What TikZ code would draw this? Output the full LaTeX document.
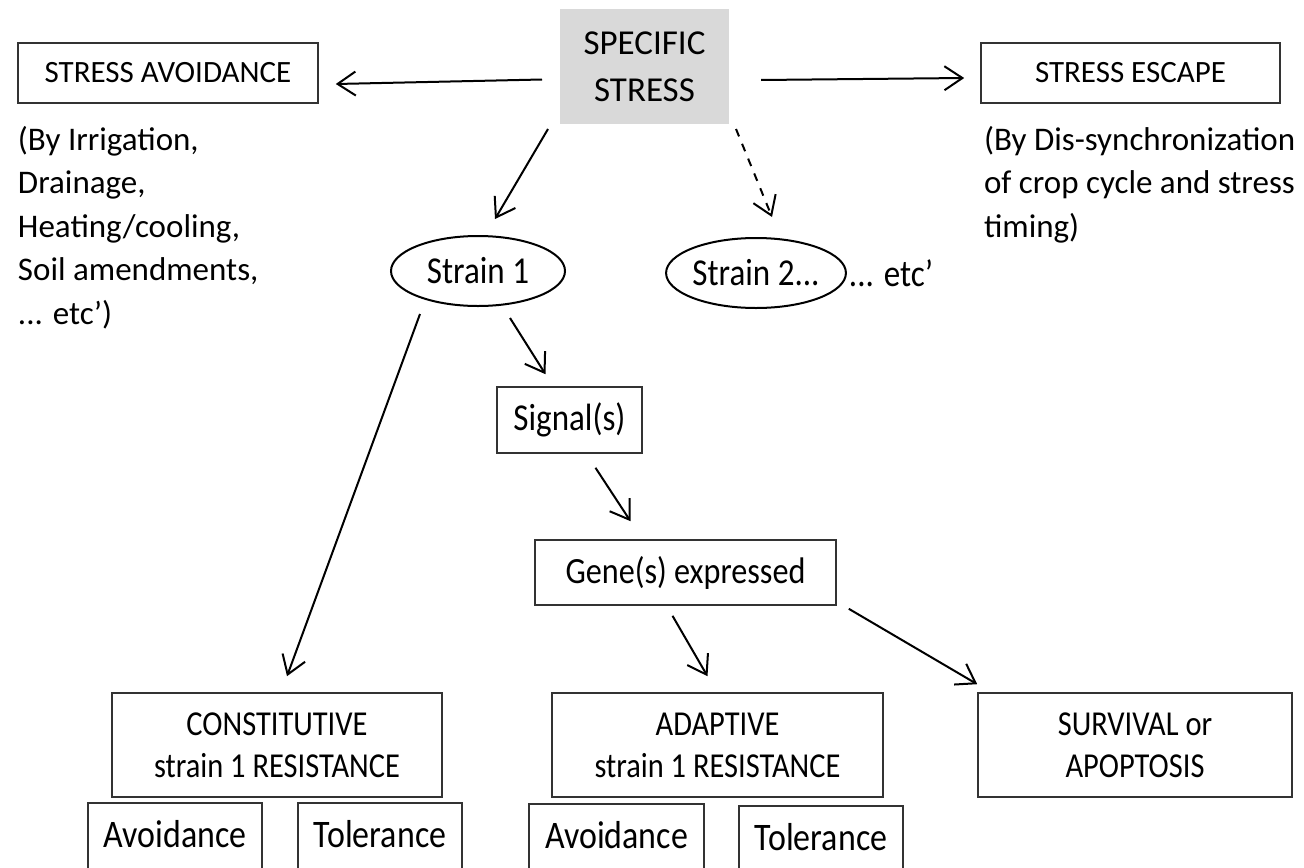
\documentclass[tikz,border=0pt]{standalone}
\usepackage{fontspec}
\setmainfont{Carlito}
\newfontfamily\tallfont{Carlito}[FakeStretch=0.87,Ligatures=TeX]
\usetikzlibrary{positioning,shapes.geometric,arrows.meta,calc}

\begin{document}
\begin{tikzpicture}[x=0.5pt,y=-0.5pt,line width=1pt,>={Straight Barb[length=9pt,width=12pt]},
    box/.style={draw=black!80,line width=0.8pt,align=center,inner sep=0pt,font=\tallfont\fontsize{17.5pt}{21pt}\selectfont},
    strain/.style={draw,ellipse,minimum width=87pt,minimum height=35pt,inner sep=0pt,font=\tallfont\fontsize{19pt}{22pt}\selectfont},
    note/.style={align=left,anchor=north west,inner sep=0pt,font=\fontsize{16.5pt}{21.75pt}\selectfont},
    kind/.style={draw=black!80,line width=0.8pt,anchor=north,inner sep=0pt,text height=22.5pt,text depth=40pt,font=\tallfont\fontsize{19.5pt}{22pt}\selectfont}]
        \useasboundingbox (0,0) rectangle (1304,867);
        \clip (0,0) rectangle (1304,867);
        \node[fill=black!15,align=center,minimum width=84.5pt,minimum height=57.5pt,inner sep=0pt,font=\fontsize{17.5pt}{23.5pt}\selectfont] (spec) at (644.5,66.5) {SPECIFIC\\STRESS};
        \node[box,minimum width=150pt,minimum height=30pt,font=\fontsize{15.5pt}{20pt}\selectfont] (avoid) at (168,73) {STRESS AVOIDANCE};
        \node[box,minimum width=149.5pt,minimum height=30pt,font=\fontsize{15.5pt}{20pt}\selectfont] (escape) at (1130.5,73) {STRESS ESCAPE};
        \node[note] (avoidnote) at (17,125) {(By Irrigation,\\Drainage,\\Heating/cooling,\\Soil amendments,\\... etc')};
        \node[note] (escapenote) at (983,125) {(By Dis-synchronization\\of crop cycle and stress\\timing)};
        \node[strain] (s1) at (478,271) {Strain 1};
        \node[strain] (s2) at (756,273) {Strain 2...};
        \node[right=0.5pt of s2,inner sep=0pt,font=\tallfont\fontsize{19pt}{22pt}\selectfont] (etc) {... etc'};
        \node[box,minimum width=72.5pt,minimum height=33pt,font=\tallfont\fontsize{19pt}{22pt}\selectfont] (signal) at (569.5,420) {Signal(s)};
        \node[box,minimum width=150.5pt,minimum height=32.5pt,font=\tallfont\fontsize{18.5pt}{22pt}\selectfont] (gene) at (685.5,572.5) {Gene(s) expressed};
        \node[box,minimum width=165pt,minimum height=52pt] (const) at (277,745) {CONSTITUTIVE\\strain 1 RESISTANCE};
        \node[box,minimum width=165.5pt,minimum height=52pt] (adapt) at (717.5,745) {ADAPTIVE\\strain 1 RESISTANCE};
        \node[box,minimum width=157pt,minimum height=52pt] (surv) at (1135,745) {SURVIVAL or\\APOPTOSIS};
        \node[kind,minimum width=87pt] (cav) at (175,802) {Avoidance};
        \node[kind,minimum width=82pt] (ctol) at (380,802) {Tolerance};
        \node[kind,minimum width=87.5pt] (aav) at (616.5,803) {Avoidance};
        \node[kind,minimum width=82pt] (atol) at (821,805) {Tolerance};
        \draw[->] ($(spec.west)+(-17,13)$) -- ($(avoid.east)+(17,11)$);
        \draw[->] ($(spec.east)+(31,13.5)$) -- ($(escape.west)+(-16,5)$);
        \draw[->] ($(spec.south west)+(-11,4)$) -- ($(s1.north)+(17,-16)$);
        \draw[->,dash pattern=on 4pt off 4pt] ($(spec.south east)+(6,4)$) -- ($(s2.north)+(16,-20)$);
        \draw[->] ($(s1.south)+(-58,7)$) -- ($(const.north)+(10,-16)$);
        \draw[->] ($(s1.south)+(32,11)$) -- ($(signal.north)+(-24,-12)$);
        \draw[->] ($(signal.south)+(26,14)$) -- ($(gene.north)+(-55,-18)$);
        \draw[->] ($(gene.south)+(-13,10)$) -- ($(adapt.north)+(-10,-16)$);
        \draw[->] ($(gene.south east)+(12,3)$) -- ($(surv.north west)+(0,-8)$);
    \end{tikzpicture}
\end{document}
